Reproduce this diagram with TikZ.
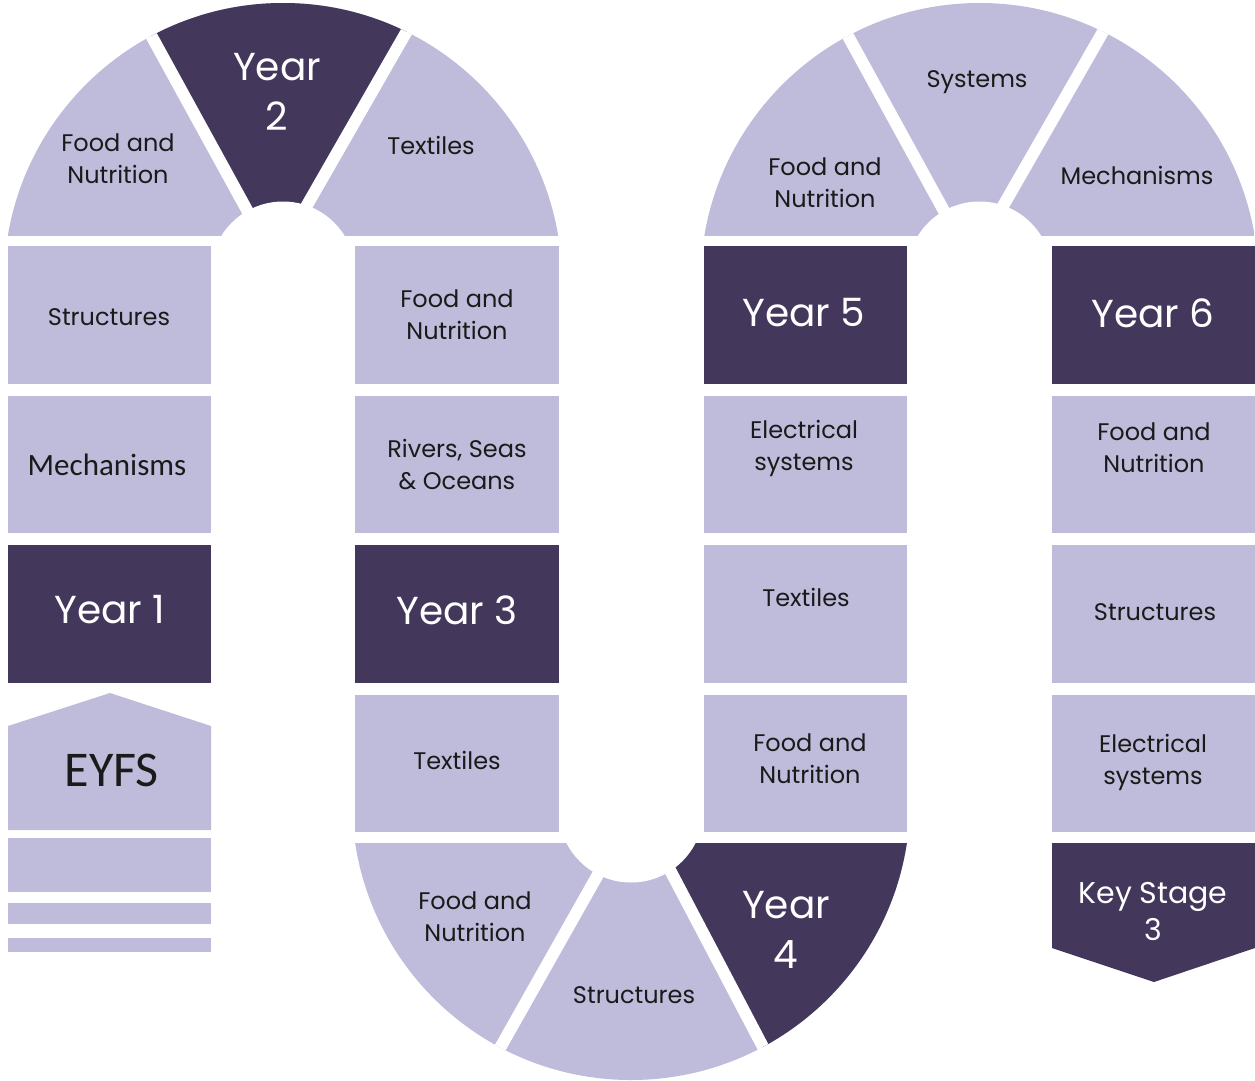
\documentclass[tikz,border=0pt]{standalone}
\usepackage{fontspec}
\setmainfont{Poppins}
\newfontfamily\calib{Carlito}
\definecolor{lav}{HTML}{BFBBDB}
\definecolor{dk}{HTML}{43375C}
\definecolor{txt}{HTML}{1A1A1A}
\begin{document}
\begin{tikzpicture}[x=1pt,y=-1pt,
  lbl/.style={align=center,inner sep=0pt,text=txt,font=\fontsize{24}{32}\selectfont},
  ylbl/.style={align=center,inner sep=0pt,text=white,font=\fontsize{39}{50}\selectfont},
  sep/.style={white,line width=12pt}]
\useasboundingbox (0,0) rectangle (1255,1081);

% ---- top arch 1 (cols A-B)
\begin{scope}
  \clip (283,282) circle[radius=279];
  \clip (0,0) rectangle (1255,235);
  \fill[lav] (0,0) rectangle (600,240);
  \fill[dk] (274.8,260.6) -- (104.5,-49.5) -- (455,-52) -- cycle;
  \draw[sep] (123.5,-15) -- (275.5,262);
  \draw[sep] (435,-18) -- (279,254);
  \fill[white] (283,274) circle[radius=72.5];
\end{scope}

% ---- top arch 2 (cols C-D)
\begin{scope}
  \clip (979.5,282) circle[radius=279];
  \clip (0,0) rectangle (1255,235);
  \fill[lav] (650,0) rectangle (1255,240);
  \draw[sep] (820,-15) -- (972,262);
  \draw[sep] (1131.5,-18) -- (975.5,254);
  \fill[white] (979.5,274) circle[radius=72.5];
\end{scope}

% ---- bottom arch (cols B-C)
\begin{scope}
  \clip (631,801) circle[radius=279];
  \clip (0,843) rectangle (1255,1081);
  \fill[lav] (340,840) rectangle (920,1081);
  \fill[dk] (624,782.5) -- (808,1132.5) -- (1000,1132) -- (1000,782) -- cycle;
  \draw[sep] (452,1133) -- (644,793);
  \draw[sep] (624,782.5) -- (808,1132.5);
  \fill[white] (631,810) circle[radius=72.5];
\end{scope}

% ---- column A
\fill[lav] (8,246) rectangle (211,384);
\fill[lav] (8,396) rectangle (211,533);
\fill[dk]  (8,545) rectangle (211,683);
\fill[lav] (8,830) -- (8,726) -- (110,693) -- (211,726) -- (211,830) -- cycle;
\fill[lav] (8,838) rectangle (211,892);
\fill[lav] (8,903) rectangle (211,924);
\fill[lav] (8,938) rectangle (211,952);

% ---- column B
\fill[lav] (355,246) rectangle (559,384);
\fill[lav] (355,396) rectangle (559,533);
\fill[dk]  (355,545) rectangle (559,683);
\fill[lav] (355,695) rectangle (559,832);

% ---- column C
\fill[dk]  (704,246) rectangle (907,384);
\fill[lav] (704,396) rectangle (907,533);
\fill[lav] (704,545) rectangle (907,683);
\fill[lav] (704,695) rectangle (907,832);

% ---- column D
\fill[dk]  (1052,246) rectangle (1255,384);
\fill[lav] (1052,396) rectangle (1255,533);
\fill[lav] (1052,545) rectangle (1255,683);
\fill[lav] (1052,695) rectangle (1255,832);
\fill[dk]  (1052,843) -- (1255,843) -- (1255,948) -- (1154,982) -- (1052,948) -- cycle;

% ---- labels
\node[lbl]  (a1) at (118,159) {Food and\\Nutrition};
\node[ylbl] (y2) at (277,92) {Year\\2};
\node[lbl]  (a3) at (431,145) {Textiles};

\node[lbl]  (c1) at (109,317) {Structures};
\node[lbl,font=\calib\fontsize{31}{36}\selectfont] (c2) at (107,465) {Mechanisms};
\node[ylbl] (y1) at (110,610) {Year 1};
\node[lbl,font=\calib\fontsize{50}{58}\selectfont] (ey) at (112,770) {EYFS};

\node[lbl]  (b1) at (457,315) {Food and\\Nutrition};
\node[lbl]  (b2) at (457,465) {Rivers, Seas\\\& Oceans};
\node[ylbl] (y3) at (457,610) {Year 3};
\node[lbl]  (b4) at (457,760) {Textiles};

\node[lbl]  (d1) at (475,917) {Food and\\Nutrition};
\node[lbl]  (d2) at (634,995) {Structures};
\node[ylbl] (y4) at (786,930) {Year\\4};

\node[lbl]  (e4) at (810,759) {Food and\\Nutrition};
\node[lbl]  (e3) at (806,597) {Textiles};
\node[lbl]  (e2) at (804,448) {Electrical\\systems};
\node[ylbl] (y5) at (804,313) {Year 5};

\node[lbl]  (f1) at (825,183) {Food and\\Nutrition};
\node[lbl]  (f2) at (977,82) {Systems};
\node[lbl]  (f3) at (1137,175) {Mechanisms};

\node[ylbl] (y6) at (1153,313) {Year 6};
\node[lbl]  (g2) at (1154,448) {Food and\\Nutrition};
\node[lbl]  (g3) at (1155,612) {Structures};
\node[lbl]  (g4) at (1153,762) {Electrical\\systems};
\node[ylbl,font=\fontsize{30}{37}\selectfont] (ks) at (1153,911) {Key Stage\\3};
\end{tikzpicture}
\end{document}
